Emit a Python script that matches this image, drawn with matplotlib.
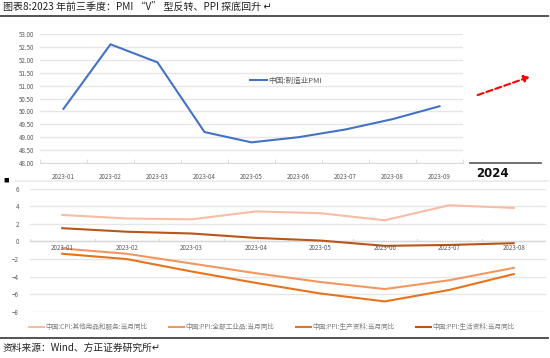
import matplotlib
matplotlib.use("Agg")
import matplotlib.pyplot as plt
from matplotlib.lines import Line2D
from matplotlib.patches import FancyArrowPatch

plt.rcParams['font.family'] = ['Noto Sans CJK SC', 'DejaVu Sans']

# ---------------- data ----------------
pmi_months = ["2023-01", "2023-02", "2023-03", "2023-04", "2023-05",
              "2023-06", "2023-07", "2023-08", "2023-09"]
pmi_values = [50.1, 52.6, 51.9, 49.2, 48.8, 49.0, 49.3, 49.7, 50.2]
pmi_label = "中国:制造业PMI"

price_months = ["2023-01", "2023-02", "2023-03", "2023-04",
                "2023-05", "2023-06", "2023-07", "2023-08"]
cpi_other = [3.0, 2.6, 2.5, 3.4, 3.2, 2.4, 4.1, 3.8]
ppi_all = [-0.8, -1.4, -2.5, -3.6, -4.6, -5.4, -4.4, -3.0]
ppi_prod = [-1.4, -2.0, -3.4, -4.7, -5.9, -6.8, -5.5, -3.7]
ppi_cons = [1.5, 1.1, 0.9, 0.4, 0.1, -0.5, -0.4, -0.2]
price_labels = ["中国:CPI:其他用品和服务:当月同比",
                "中国:PPI:全部工业品:当月同比",
                "中国:PPI:生产资料:当月同比",
                "中国:PPI:生活资料:当月同比"]
price_colors = ["#F7BCA3", "#F2975F", "#E8731F", "#B8561A"]

title = "图表8:2023 年前三季度：PMI “V” 型反转、PPI 探底回升 ↵"
source = "资料来源：Wind、方正证券研究所↵"

W, H = 550, 358
fig = plt.figure(figsize=(W / 100, H / 100), dpi=100)

def fx(x):
    return x / W

def fy(y):
    return 1 - y / H

grid_c = "#E6E6E6"
tick_c = "#595959"

# ---------------- title / frame lines ----------------
fig.text(fx(3), fy(8), title, fontsize=7.2, color="#222222", va="center", ha="left",
         fontweight="medium")
fig.add_artist(Line2D([fx(0), fx(548)], [fy(16), fy(16)], color="#444444", lw=1.3))
fig.add_artist(Line2D([fx(0), fx(548)], [fy(338), fy(338)], color="#444444", lw=1.3))
fig.text(fx(3), fy(348), source, fontsize=7, color="#222222", va="center", ha="left")

# ---------------- top chart ----------------
ax1 = fig.add_axes([fx(40), fy(163), fx(463) - fx(40), fy(34) - fy(163)])
x1 = list(range(len(pmi_months)))
ax1.plot(x1, pmi_values, color="#4472C4", lw=1.5, label=pmi_label)
ax1.set_xlim(-0.5, len(pmi_months) - 0.5)
ax1.set_ylim(48, 53)
ax1.set_yticks([48 + 0.5 * i for i in range(11)])
ax1.set_yticklabels([f"{48 + 0.5 * i:.2f}" for i in range(11)])
ax1.set_xticks(x1)
ax1.set_xticklabels(pmi_months)
ax1.set_xticks([i - 0.5 for i in range(len(pmi_months) + 1)], minor=True)
ax1.tick_params(axis="x", which="major", length=0, labelsize=4.5, colors=tick_c, pad=7)
ax1.tick_params(axis="x", which="minor", length=3, color="#D9D9D9", direction="in")
ax1.tick_params(axis="y", length=0, labelsize=4.5, colors=tick_c, pad=4)
ax1.grid(axis="y", color=grid_c, lw=1)
ax1.set_axisbelow(True)
for s in ["top", "right", "left"]:
    ax1.spines[s].set_visible(False)
ax1.spines["bottom"].set_color("#D9D9D9")
ax1.legend(loc="upper left", bbox_to_anchor=(0.48, 0.72), frameon=False, fontsize=5.5,
           handlelength=2.2, handletextpad=0.2, labelcolor="#595959")

# right annotation
fig.add_artist(Line2D([fx(470), fx(541)], [fy(163), fy(163)], color="#666666", lw=1.3))
fig.text(fx(476), fy(173), "2024", fontsize=8.5, fontweight="bold", color="#111111",
         va="center", ha="left", family="DejaVu Sans")
arr = FancyArrowPatch((fx(475), fy(96)), (fx(532), fy(76)), transform=fig.transFigure,
                      arrowstyle="-|>,head_length=3,head_width=2", color="#FF0000",
                      lw=1.5, linestyle=(0, (3, 1.5)), mutation_scale=1)
fig.add_artist(arr)

# separator
fig.add_artist(Line2D([fx(15), fx(548)], [fy(181), fy(181)], color="#EBEBEB", lw=1.2))
fig.text(fx(3), fy(180), "■", fontsize=4, color="#000000", va="center", ha="left")

# ---------------- bottom chart ----------------
ax2 = fig.add_axes([fx(30), fy(312), fx(546) - fx(30), fy(188.5) - fy(312)])
x2 = list(range(len(price_months)))
for vals, c, lab in zip([cpi_other, ppi_all, ppi_prod, ppi_cons], price_colors, price_labels):
    ax2.plot(x2, vals, color=c, lw=1.5, label=lab)
ax2.set_xlim(-0.5, len(price_months) - 0.5)
ax2.set_ylim(-8, 6)
ax2.set_yticks(range(-8, 7, 2))
ax2.set_xticks(x2)
for s in ["top", "right", "left", "bottom"]:
    ax2.spines[s].set_visible(False)
ax2.axhline(0, color="#D9D9D9", lw=1, zorder=1)
ax2.grid(axis="y", color=grid_c, lw=1)
ax2.set_axisbelow(True)
ax2.tick_params(axis="y", length=0, labelsize=4.5, colors=tick_c, pad=8)
ax2.tick_params(axis="x", which="both", length=0, labelsize=4.5, colors=tick_c)
# place x labels next to the zero line
ax2.set_xticklabels([])
for i, m in enumerate(price_months):
    ax2.text(i, -0.25, m, transform=ax2.transData, fontsize=4.5, color=tick_c,
             ha="center", va="top")
for i in range(len(price_months) + 1):
    ax2.plot([i - 0.5, i - 0.5], [0, 0.25], color="#D9D9D9", lw=0.8, zorder=1)

fig.legend(handles=ax2.get_lines()[:4], labels=price_labels, loc="center",
           bbox_to_anchor=(fx(272), fy(327)), ncol=4, frameon=False, fontsize=4.8,
           handlelength=2.2, handletextpad=0.3, columnspacing=3.2, labelcolor="#7F7F7F")

fig.savefig("out.png", dpi=100)
